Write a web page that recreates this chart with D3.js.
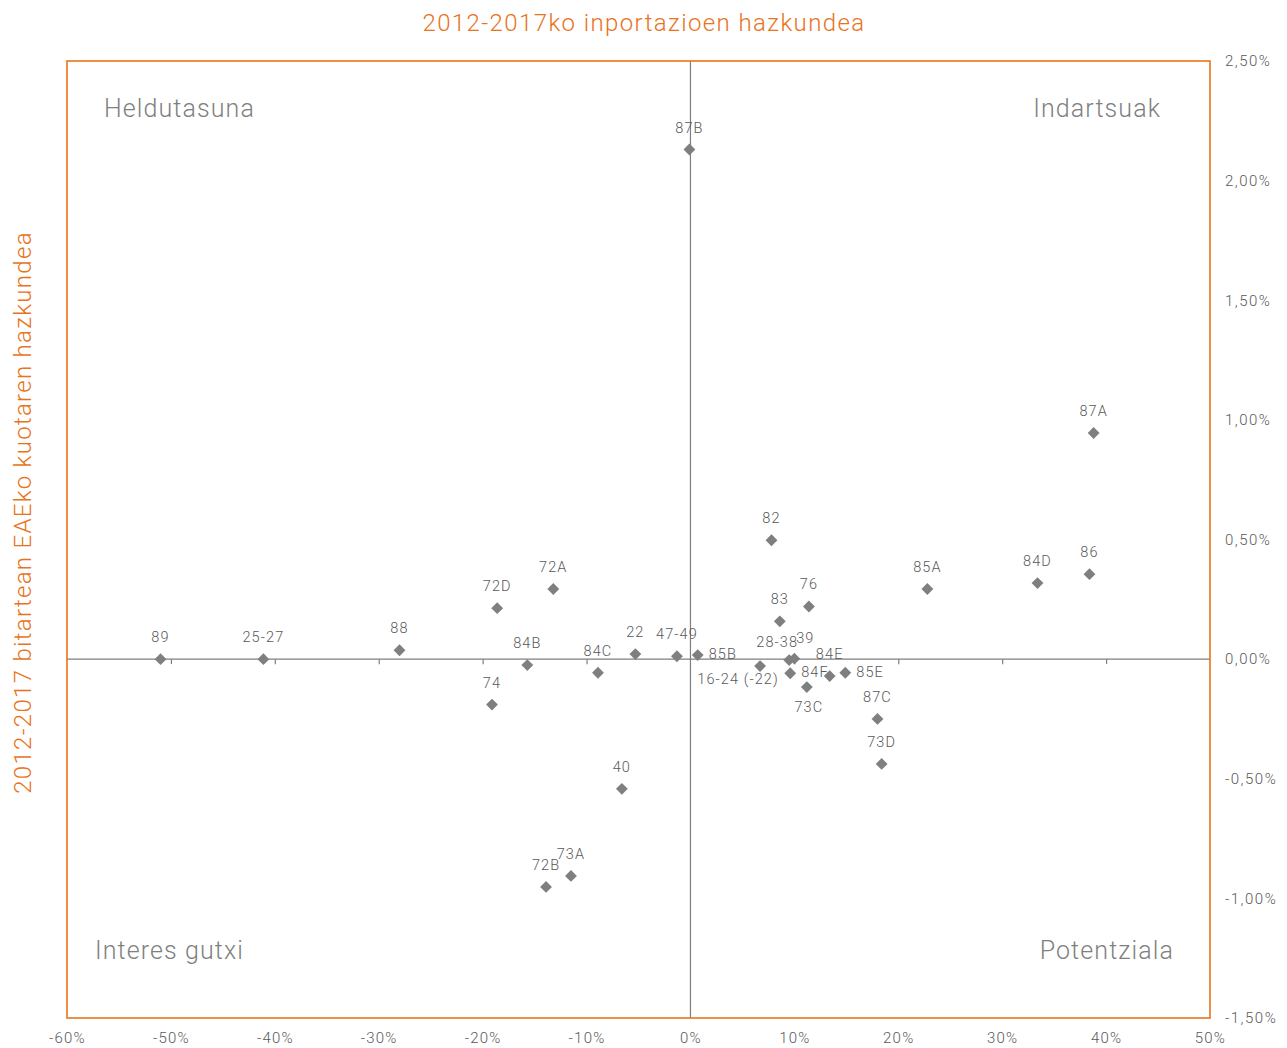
<!DOCTYPE html>
<html><head><meta charset="utf-8">
<script src="https://cdn.jsdelivr.net/npm/d3@7"></script>
<style>body{margin:0;background:#fff;} text{font-family:Roboto,"DejaVu Sans",sans-serif;font-weight:300;}</style>
</head><body>
<svg id="c" width="1287" height="1048"></svg>
<script>
const codes = ["89","25-27","88","72D","72A","84B","74","84C","22","47-49","85B","87B","40","72B","73A","82","83","76","28-38","39","16-24 (-22)","84F","73C","84E","85E","87C","73D","85A","84D","86","87A"];
const importGrowth = [-51.0,-41.1,-28.0,-18.6,-13.2,-15.7,-19.1,-8.9,-5.3,-1.3,0.7,-0.1,-6.6,-13.9,-11.5,7.8,8.6,11.4,9.5,10.0,6.7,9.6,11.2,13.4,14.9,18.0,18.4,22.8,33.4,38.4,38.8];
const shareGrowth = [0.0,0.0,0.037,0.213,0.293,-0.025,-0.19,-0.057,0.021,0.012,0.017,2.13,-0.542,-0.952,-0.906,0.497,0.158,0.22,-0.004,0.002,-0.029,-0.059,-0.117,-0.071,-0.057,-0.25,-0.438,0.293,0.318,0.355,0.945];
const labelPlacement = ["above","above","above","above","above","above","above","above","above","above","right","above","above","above","above","above","above","above","aboveleft","aboveright","belowleft","right","below","above","right","above","above","above","above","above","above"];
const xTicks = [-60,-50,-40,-30,-20,-10,0,10,20,30,40,50];
const yTicks = [2.5,2.0,1.5,1.0,0.5,0.0,-0.5,-1.0,-1.5];
const quadrants = [
  {text:"Heldutasuna", pos:"tl"},
  {text:"Indartsuak", pos:"tr"},
  {text:"Interes gutxi", pos:"bl"},
  {text:"Potentziala", pos:"br"}
];
const title = "2012-2017ko inportazioen hazkundea";
const yTitle = "2012-2017 bitartean EAEko kuotaren hazkundea";

const orange = "#E8731A", gray = "#7f7f7f", textGray = "#595959";
const svg = d3.select("#c");
const L = 67, R = 1210, T = 61, B = 1018;
const x = d3.scaleLinear().domain([-60,50]).range([L,R]);
const y = d3.scaleLinear().domain([-1.5,2.5]).range([B,T]);
const loc = d3.formatLocale({decimal:",", thousands:".", grouping:[3], currency:["","€"], minus:"-"});
const fy = v => loc.format(".2f")(v) + "%";
const fx = v => loc.format("d")(v) + "%";

// zero lines
svg.append("line").attr("x1",L).attr("x2",R).attr("y1",y(0)).attr("y2",y(0)).attr("stroke",gray).attr("stroke-width",1.2);
svg.append("line").attr("x1",x(0)).attr("x2",x(0)).attr("y1",T).attr("y2",B).attr("stroke",gray).attr("stroke-width",1.2);
// ticks on zero line
const zt = svg.append("g").attr("transform",`translate(0,${y(0)})`)
  .call(d3.axisBottom(x).tickValues(xTicks.filter(v=>v>-60&&v<50&&v!==0)).tickSize(5).tickFormat(""));
zt.select(".domain").remove();
zt.selectAll("line").attr("stroke",gray).attr("stroke-width",1.2);

// frame
svg.append("rect").attr("x",L).attr("y",T).attr("width",R-L).attr("height",B-T).attr("fill","none").attr("stroke",orange).attr("stroke-width",1.6);

// bottom labels
const bx = svg.append("g").attr("transform",`translate(0,${B})`)
  .call(d3.axisBottom(x).tickValues(xTicks).tickSize(0).tickPadding(14).tickFormat(fx));
bx.select(".domain").remove();
bx.selectAll("text").attr("fill",textGray).attr("font-size",15).attr("letter-spacing",1.2).attr("font-family",null);

// right labels
const ry = svg.append("g").attr("transform",`translate(${R},0)`)
  .call(d3.axisRight(y).tickValues(yTicks).tickSize(0).tickPadding(15).tickFormat(fy));
ry.select(".domain").remove();
ry.selectAll("text").attr("fill",textGray).attr("font-size",15).attr("letter-spacing",1.5).attr("font-family",null);

// titles
svg.append("text").attr("x",644).attr("y",31).attr("text-anchor","middle").attr("fill",orange).attr("font-size",24).attr("font-weight",400).attr("letter-spacing",1.4).text(title);
svg.append("text").attr("transform",`translate(31,${(T+B)/2-27}) rotate(-90)`).attr("text-anchor","middle").attr("fill",orange).attr("font-size",24).attr("font-weight",400).attr("letter-spacing",1.3).text(yTitle);

// quadrant labels
const qpos = {tl:[104,117,"start"], tr:[1161,117,"end"], bl:[95,959,"start"], br:[1174,959,"end"]};
svg.selectAll("text.q").data(quadrants).join("text").attr("class","q")
  .attr("x",d=>qpos[d.pos][0]).attr("y",d=>qpos[d.pos][1]).attr("text-anchor",d=>qpos[d.pos][2])
  .attr("fill",gray).attr("font-size",25).attr("font-weight",400).attr("letter-spacing",1.1).text(d=>d.text);

// points
const data = codes.map((c,i)=>({c, x:importGrowth[i], y:shareGrowth[i], p:labelPlacement[i]}));
const sym = d3.symbol().type(d3.symbolSquare).size(70);
svg.selectAll("path.pt").data(data).join("path").attr("class","pt")
  .attr("d",sym).attr("transform",d=>`translate(${x(d.x)},${y(d.y)}) rotate(45)`)
  .attr("fill",gray);

const off = {
  above:[0,-17,"middle"], aboveleft:[-12,-13,"middle"], aboveright:[11,-16,"middle"],
  right:[11,4,"start"], below:[2,25,"middle"], belowleft:[-22,18,"middle"]
};
svg.selectAll("text.lbl").data(data).join("text").attr("class","lbl")
  .attr("x",d=>x(d.x)+off[d.p][0]).attr("y",d=>y(d.y)+off[d.p][1]).attr("text-anchor",d=>off[d.p][2])
  .attr("fill",textGray).attr("font-size",14.5).attr("letter-spacing",1.1).text(d=>d.c);
</script>
</body></html>
